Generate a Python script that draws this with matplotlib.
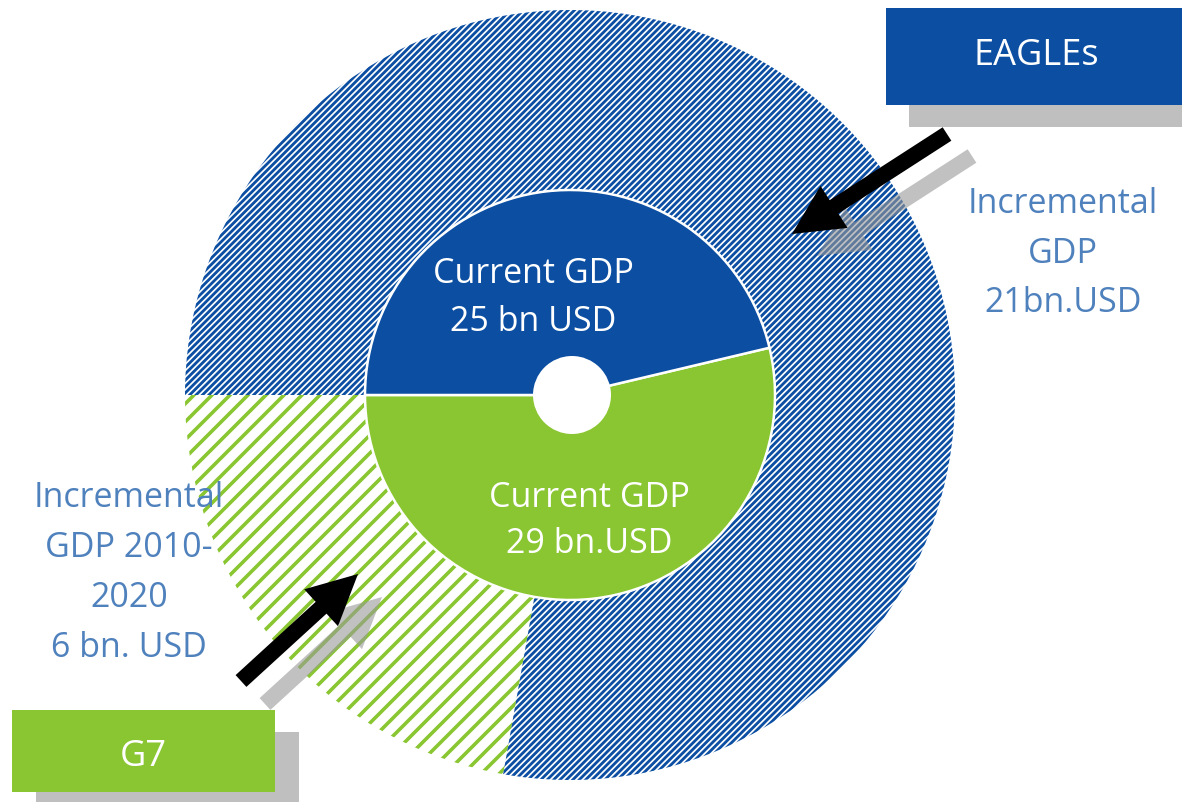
import matplotlib
matplotlib.use("Agg")
import numpy as np
import matplotlib.pyplot as plt
from matplotlib.patches import Circle, Rectangle, FancyArrow
from matplotlib.collections import LineCollection

plt.rcParams['font.family'] = ['Open Sans', 'DejaVu Sans']

W, H = 1182, 803

# ---- data ----
groups = ["G7", "EAGLEs"]
current_gdp = [29, 25]          # bn USD (inner pie: G7, EAGLEs)
incremental_gdp = [6, 21]       # bn USD (outer ring: G7, EAGLEs)
inner_labels = {"EAGLEs": ["Current GDP", "25 bn USD"],
                "G7": ["Current GDP", "29 bn.USD"]}
incr_labels = {"EAGLEs": ["Incremental", "GDP", "21bn.USD"],
               "G7": ["Incremental", "GDP 2010-", "2020", "6 bn. USD"]}

BLUE = "#0B4EA2"
GREEN = "#8AC631"
TXT = "#4F81BD"
GRAY = "#BFBFBF"

def Y(y):
    return H - y

fig = plt.figure(figsize=(W / 100, H / 100), dpi=100)
ax = fig.add_axes([0, 0, 1, 1])

cx, cy = 570, 396
R_out, R_in, R_hole = 385, 205, 39

# outer ring (full pie, covered by inner pie), hatched with clipped lines
wo, _ = ax.pie(incremental_gdp, startangle=180, counterclock=True,
               center=(cx, Y(cy)), radius=R_out)

def hatch_wedge(wedge, color, step_h, lw_px):
    wedge.set_facecolor('white')
    wedge.set_edgecolor('none')
    wedge.set_linewidth(0)
    yc = Y(cy)
    c0 = cx - yc
    segs = []
    for c in np.arange(c0 - 2 * R_out - 20, c0 + 2 * R_out + 20, step_h):
        x0, x1 = cx - R_out - 10, cx + R_out + 10
        segs.append([(x0, x0 - c), (x1, x1 - c)])
    lc = LineCollection(segs, colors=color, linewidths=lw_px * 0.72,
                        zorder=1.5, antialiased=True)
    ax.add_collection(lc)
    lc.set_clip_path(wedge)

hatch_wedge(wo[0], GREEN, 18.0, 3.6)
hatch_wedge(wo[1], BLUE, 6.4, 2.8)

# inner pie
wi, _ = ax.pie(current_gdp, startangle=180, counterclock=True,
               center=(cx, Y(cy)), radius=R_in, colors=[GREEN, BLUE],
               wedgeprops=dict(edgecolor='white', linewidth=1.8))
for w in wi:
    w.set_zorder(2)
ax.add_patch(Circle((cx + 2, Y(cy)), R_hole, facecolor='white',
                    edgecolor='none', zorder=3))

# inner labels
fs = 24.5
for (x, y), t in zip([(533, 283), (533, 331)], inner_labels["EAGLEs"]):
    ax.text(x, Y(y), t, ha='center', va='baseline', color='white',
            fontsize=fs, zorder=4)
for (x, y), t in zip([(589, 507), (589, 553)], inner_labels["G7"]):
    ax.text(x, Y(y), t, ha='center', va='baseline', color='white',
            fontsize=fs, zorder=4)

# incremental labels
for y, t in zip([213, 263, 312], incr_labels["EAGLEs"]):
    ax.text(1063, Y(y), t, ha='center', va='baseline', color=TXT,
            fontsize=fs, zorder=4)
for y, t in zip([507, 557, 607, 657], incr_labels["G7"]):
    ax.text(129, Y(y), t, ha='center', va='baseline', color=TXT,
            fontsize=fs, zorder=4)

# arrows: gray shadows then black
def arrow(x0, y0, x1, y1, color, alpha=1.0, z=5):
    ax.add_patch(FancyArrow(x0, Y(y0), x1 - x0, -(y1 - y0), width=16,
                            head_width=50, head_length=50,
                            length_includes_head=True, facecolor=color,
                            edgecolor='none', alpha=alpha, zorder=z))

arrow(972, 157, 817, 257, '#999999', alpha=0.6, z=5)
arrow(947, 135, 792, 235, 'black', z=6)
arrow(265, 705, 382, 598, '#999999', alpha=0.6, z=5)
arrow(241, 682, 358, 575, 'black', z=6)

# boxes with shadows
ax.add_patch(Rectangle((909, Y(128)), 300, 100, facecolor=GRAY,
                       edgecolor='none', zorder=7))
ax.add_patch(Rectangle((886, Y(106)), 310, 97, facecolor=BLUE,
                       edgecolor='none', zorder=8))
ax.text(1036, Y(65), groups[1], ha='center', va='baseline', color='white',
        fontsize=26, zorder=9)

ax.add_patch(Rectangle((36, Y(815)), 263, 82, facecolor=GRAY,
                       edgecolor='none', zorder=7))
ax.add_patch(Rectangle((12, Y(793)), 263, 82, facecolor=GREEN,
                       edgecolor='none', zorder=8))
ax.text(143.5, Y(766), groups[0], ha='center', va='baseline', color='white',
        fontsize=26, zorder=9)

ax.set_xlim(0, W)
ax.set_ylim(0, H)
ax.set_aspect('equal')
ax.axis('off')

fig.savefig("out.png", dpi=100)
